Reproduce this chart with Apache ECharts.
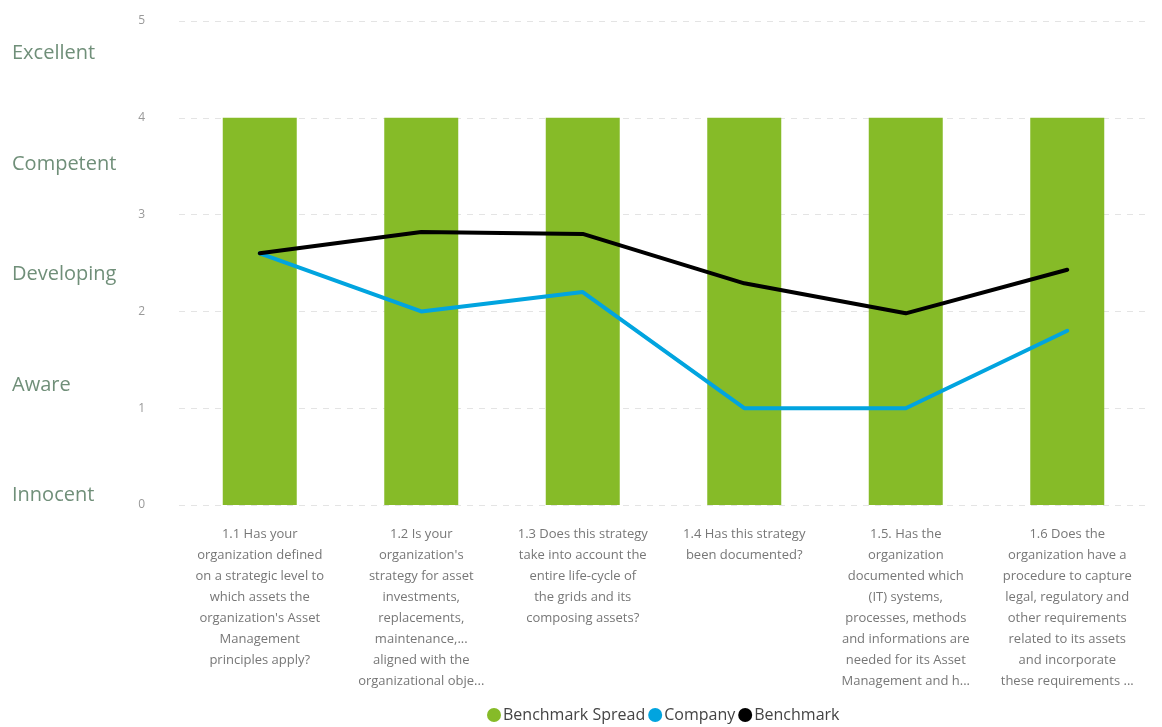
<!DOCTYPE html>
<html><head><meta charset="utf-8">
<script src="https://cdn.jsdelivr.net/npm/echarts@6/dist/echarts.min.js"></script>
<style>html,body{margin:0;padding:0;background:#fff}#c{width:1162px;height:727px}</style>
</head><body><div id="c"></div>
<script>
const categories = [
  "1.1 Has your\norganization defined\non a strategic level to\nwhich assets the\norganization's Asset\nManagement\nprinciples apply?",
  "1.2 Is your\norganization's\nstrategy for asset\ninvestments,\nreplacements,\nmaintenance,...\naligned with the\norganizational obje...",
  "1.3 Does this strategy\ntake into account the\nentire life-cycle of\nthe grids and its\ncomposing assets?",
  "1.4 Has this strategy\nbeen documented?",
  "1.5. Has the\norganization\ndocumented which\n(IT) systems,\nprocesses, methods\nand informations are\nneeded for its Asset\nManagement and h...",
  "1.6 Does the\norganization have a\nprocedure to capture\nlegal, regulatory and\nother requirements\nrelated to its assets\nand incorporate\nthese requirements ..."
];
const benchmarkSpread = [4, 4, 4, 4, 4, 4];
const company = [2.6, 2.0, 2.2, 1.0, 1.0, 1.8];
const benchmark = [2.6, 2.82, 2.8, 2.29, 1.98, 2.43];
const levelLabels = ["Excellent", "Competent", "Developing", "Aware", "Innocent"];
const levelY = [52, 163, 273, 384, 494];

const font = "'Open Sans', 'Noto Sans', sans-serif";
const chart = echarts.init(document.getElementById('c'));
chart.setOption({
  animation: false,
  textStyle: {fontFamily: font},
  grid: {left: 179, right: 14, top: 21, bottom: 222},
  legend: {
    bottom: -1, left: 482, icon: 'circle', itemWidth: 14, itemHeight: 14, itemGap: 3,
    textStyle: {fontSize: 16, color: '#444', fontFamily: font, padding: [0, 0, 0, -3]},
    data: ['Benchmark Spread', 'Company', 'Benchmark']
  },
  xAxis: {
    type: 'category', data: categories,
    axisLine: {show: false}, axisTick: {show: false},
    axisLabel: {interval: 0, color: '#777', fontSize: 13, lineHeight: 21, margin: 19, verticalAlign: 'top'}
  },
  yAxis: {
    type: 'value', min: 0, max: 5, interval: 1,
    axisLabel: {color: '#999', fontSize: 12, margin: 34},
    splitLine: {lineStyle: {color: '#e4e4e4', type: [6, 6], width: 1}}
  },
  graphic: levelLabels.map((t, i) => ({
    type: 'text', left: 12, top: levelY[i] - 9,
    style: {text: t, fontSize: 20, fill: '#708f79', fontFamily: font}
  })),
  series: [
    {name: 'Benchmark Spread', type: 'bar', data: benchmarkSpread, barWidth: 74,
     itemStyle: {color: '#86BB28'}},
    {name: 'Company', type: 'line', data: company, symbol: 'none',
     itemStyle: {color: '#01A4DF'}, lineStyle: {width: 4, color: '#01A4DF', cap: 'round', join: 'round'}},
    {name: 'Benchmark', type: 'line', data: benchmark, symbol: 'none',
     itemStyle: {color: '#000'}, lineStyle: {width: 4, color: '#000', cap: 'round', join: 'round'}}
  ]
});
</script></body></html>
